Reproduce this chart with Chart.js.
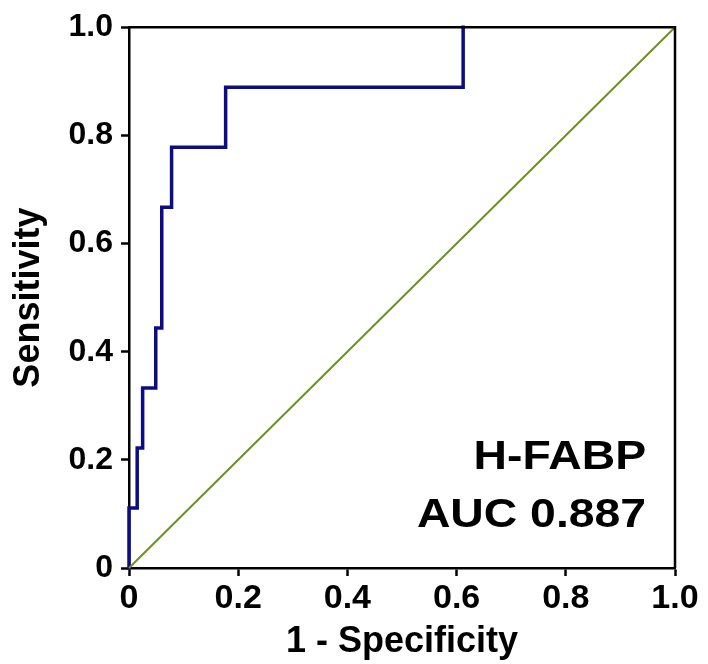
<!DOCTYPE html>
<html>
<head>
<meta charset="utf-8">
<script src="https://cdn.jsdelivr.net/npm/chart.js@4/dist/chart.umd.min.js"></script>
<style>
  html, body { margin: 0; padding: 0; background: #ffffff; }
  #wrap { width: 708px; height: 664px; }
</style>
</head>
<body>
<div id="wrap"><canvas id="c" width="708" height="664"></canvas></div>
<script>
// ROC curve for H-FABP (upper-left corners of the step curve)
const fpr = [0, 0, 0.015, 0.025, 0.049, 0.060, 0.078, 0.177, 0.612];
const tpr = [0, 0.111, 0.222, 0.333, 0.444, 0.667, 0.778, 0.889, 1.0];
// Reference (chance) line
const refX = [0, 1];
const refY = [0, 1];
// Tick values
const tickValues = [0, 0.2, 0.4, 0.6, 0.8, 1.0];
const markerName = 'H-FABP';
const aucLabel = 'AUC 0.887';
const xTitle = '1 - Specificity';
const yTitle = 'Sensitivity';

const FONT = "'Liberation Sans', Arial, Helvetica, sans-serif";

const rocData = fpr.map((x, i) => ({ x: x, y: tpr[i] }));
const refData = refX.map((x, i) => ({ x: x, y: refY[i] }));

const fmt = v => (Math.abs(v) < 1e-9 ? '0' : Number(v).toFixed(1));

const framePlugin = {
  id: 'frame',
  afterDatasetsDraw(chart) {
    const { ctx, chartArea: a } = chart;
    ctx.save();
    ctx.strokeStyle = '#000000';
    ctx.lineWidth = 2.5;
    ctx.beginPath();
    ctx.moveTo(a.left, a.top);
    ctx.lineTo(a.right, a.top);
    ctx.lineTo(a.right, a.bottom);
    ctx.stroke();
    ctx.restore();
  }
};

const labelPlugin = {
  id: 'aucLabel',
  afterDraw(chart) {
    const { ctx } = chart;
    const xs = chart.scales.x, ys = chart.scales.y;
    const right = xs.getPixelForValue(0.947);
    const lines = [[markerName, ys.getPixelForValue(0.183)], [aucLabel, ys.getPixelForValue(0.075)]];
    ctx.save();
    ctx.fillStyle = '#000000';
    ctx.font = 'bold 41px ' + FONT;
    ctx.textAlign = 'right';
    ctx.textBaseline = 'alphabetic';
    const sx = 1.13;
    lines.forEach(([t, y]) => {
      ctx.save();
      ctx.translate(right, y);
      ctx.scale(sx, 1);
      ctx.fillText(t, 0, 0);
      ctx.restore();
    });
    ctx.restore();
  }
};

new Chart(document.getElementById('c'), {
  type: 'scatter',
  data: {
    datasets: [
      {
        label: 'Chance',
        data: refData,
        showLine: true,
        borderColor: '#6f9020',
        borderWidth: 2,
        pointRadius: 0,
        fill: false,
        clip: false
      },
      {
        label: markerName,
        data: rocData,
        showLine: true,
        stepped: 'before',
        borderColor: '#0c0c88',
        borderWidth: 3.5,
        pointRadius: 0,
        fill: false,
        clip: false,
        borderCapStyle: 'square',
        borderJoinStyle: 'miter'
      }
    ]
  },
  options: {
    responsive: false,
    animation: false,
    devicePixelRatio: 1,
    layout: { padding: { top: 23, right: 33, left: 0, bottom: 0 } },
    plugins: {
      legend: { display: false },
      tooltip: { enabled: false }
    },
    scales: {
      x: {
        type: 'linear',
        min: 0,
        max: 1,
        afterBuildTicks: s => { s.ticks = tickValues.map(v => ({ value: v })); },
        afterFit: s => { s.height = 96; },
        ticks: {
          color: '#000000',
          font: { family: FONT, size: 34, weight: 'bold' },
          padding: 2,
          maxRotation: 0,
          callback: v => fmt(v)
        },
        grid: {
          drawOnChartArea: false,
          drawTicks: true,
          tickLength: 8,
          tickColor: '#000000',
          tickWidth: 2.5
        },
        border: { display: true, color: '#000000', width: 2.5 },
        title: {
          display: true,
          text: xTitle,
          color: '#000000',
          font: { family: FONT, size: 36, weight: 'bold' },
          padding: { top: 2, bottom: 0 }
        }
      },
      y: {
        type: 'linear',
        min: 0,
        max: 1,
        afterBuildTicks: s => { s.ticks = tickValues.map(v => ({ value: v })); },
        afterFit: s => { s.width = 129; },
        ticks: {
          color: '#000000',
          font: { family: FONT, size: 32, weight: 'bold' },
          padding: 8,
          callback: v => fmt(v)
        },
        grid: {
          drawOnChartArea: false,
          drawTicks: true,
          tickLength: 8,
          tickColor: '#000000',
          tickWidth: 2.5
        },
        border: { display: true, color: '#000000', width: 2.5 },
        title: {
          display: true,
          text: yTitle,
          color: '#000000',
          font: { family: FONT, size: 36, weight: 'bold' },
          padding: { top: 7, bottom: 0 }
        }
      }
    }
  },
  plugins: [framePlugin, labelPlugin]
});
</script>
</body>
</html>
